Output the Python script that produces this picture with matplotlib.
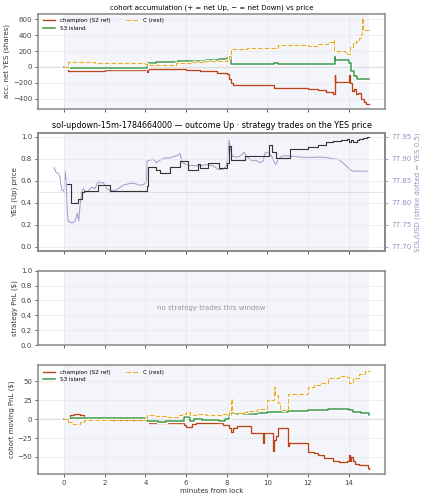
import matplotlib
matplotlib.use('Agg')
import matplotlib.pyplot as plt
import matplotlib.patheffects as pe

# panel 1: accumulated net YES shares per cohort (step series)
champ_acc_t = [0, 0.2, 1.0, 2.0, 3.0, 4.0, 4.1, 4.15, 5.0, 6.0, 6.7, 7.5, 8.0, 8.1, 8.2, 8.3,
               9.0, 10.3, 10.5, 11.5, 12.0, 12.5, 12.9, 13.2, 13.3, 13.32, 13.4, 13.9, 14.0,
               14.05, 14.15, 14.25, 14.35, 14.45, 14.6, 14.75, 14.85, 15.0]
champ_acc_v = [0, -55, -48, -42, -35, -28, -60, -25, -30, -40, -55, -70, -88, -150, -200, -230,
               -232, -260, -268, -270, -280, -295, -320, -335, -100, -190, -185, -190, -100,
               -200, -300, -280, -340, -330, -400, -440, -470, -465]
s3_acc_t = [0, 0.2, 1.0, 2.0, 3.0, 4.1, 4.5, 5.6, 6.3, 7.0, 7.6, 8.0, 8.1, 8.2, 9.0, 10.3, 10.5,
            12.0, 12.9, 13.3, 13.32, 13.9, 14.0, 14.1, 14.25, 14.4, 15.0]
s3_acc_v = [0, -17, -18, -16, -14, 55, 62, 72, 80, 88, 95, 108, 130, 32, 35, 46, 38,
            35, 40, 125, 90, 90, 50, -50, -110, -150, -150]
c_acc_t = [0, 0.2, 1.5, 2.5, 4.0, 4.1, 5.5, 6.3, 7.0, 7.6, 8.0, 8.1, 8.2, 9.0, 10.0, 10.5, 12.0,
           12.5, 13.0, 13.2, 13.25, 13.8, 13.9, 14.05, 14.2, 14.35, 14.5, 14.62, 14.65, 14.7, 15.0]
c_acc_v = [0, 62, 50, 45, 40, 30, 52, 62, 70, 80, 92, 140, 232, 238, 242, 272, 265,
           290, 310, 340, 195, 190, 162, 245, 300, 320, 360, 410, 615, 470, 462]

# panel 2: YES (Up) price and SOL/USD spot
yes_t = [0.16, 0.33, 0.7, 0.87, 1.0, 1.69, 2.26, 4.1, 4.15, 4.5, 4.7, 5.2, 5.7, 6.1, 6.6, 6.7,
         7.1, 7.6, 8.0, 8.1, 8.12, 8.2, 8.9, 10.1, 10.2, 10.4, 11.1, 12.0, 12.5, 12.9, 13.2, 13.6,
         13.9, 14.0, 14.1, 14.2, 14.4, 14.5, 14.7, 14.9, 15.0]
yes_p = [0.57, 0.40, 0.43, 0.50, 0.51, 0.56, 0.51, 0.55, 0.73, 0.70, 0.67, 0.73, 0.78, 0.70,
         0.75, 0.72, 0.76, 0.72, 0.76, 0.78, 0.92, 0.79, 0.83, 0.93, 0.86, 0.81, 0.89, 0.91, 0.93,
         0.95, 0.96, 0.97, 0.98, 0.95, 0.97, 0.95, 0.97, 0.98, 0.99, 1.00, 1.00]
sol_t = [-0.49, -0.39, -0.28, -0.2, -0.15, -0.1, 0.0, 0.05, 0.1, 0.16, 0.2, 0.38, 0.54, 0.65, 0.72,
         0.79, 0.87, 0.95, 1.08, 1.2, 1.36, 1.52, 1.69, 1.77, 1.93, 2.1, 2.26, 2.5, 2.67, 2.91,
         3.16, 3.4, 3.73, 3.9, 4.06, 4.08, 4.2, 4.39, 4.55, 4.72, 4.96, 5.2, 5.37, 5.53, 5.7, 5.82,
         6.02, 6.18, 6.35, 6.68, 7.0, 7.33, 7.58, 7.82, 7.99, 8.12, 8.18, 8.28, 8.48, 8.64, 8.85,
         8.97, 9.13, 9.3, 9.46, 9.62, 9.79, 9.87, 10.03, 10.2, 10.31, 10.41, 10.53, 10.69, 10.93,
         11.26, 11.59, 12.08, 12.57, 12.9, 13.22, 13.47, 13.71, 13.87, 14.04, 14.2, 14.53, 14.9]
sol_p = [77.880, 77.869, 77.867, 77.858, 77.840, 77.828, 77.826, 77.872, 77.850, 77.780, 77.758,
         77.754, 77.758, 77.776, 77.758, 77.795, 77.824, 77.832, 77.824, 77.828, 77.835, 77.832,
         77.850, 77.845, 77.846, 77.832, 77.828, 77.828, 77.832, 77.840, 77.843, 77.845, 77.840,
         77.841, 77.848, 77.895, 77.897, 77.899, 77.891, 77.897, 77.902, 77.902, 77.905, 77.907,
         77.912, 77.891, 77.887, 77.884, 77.885, 77.884, 77.887, 77.884, 77.876, 77.876, 77.884,
         77.943, 77.921, 77.906, 77.904, 77.906, 77.915, 77.906, 77.899, 77.895, 77.897, 77.891,
         77.895, 77.913, 77.915, 77.906, 77.895, 77.887, 77.899, 77.906, 77.907, 77.906, 77.904,
         77.903, 77.904, 77.903, 77.900, 77.899, 77.891, 77.884, 77.876, 77.872, 77.872, 77.872]

# panel 4: cohort mark-to-market PnL ($)
champ_pnl_t = [0, 0.2, 0.3, 0.5, 0.8, 1.0, 1.8, 2.2, 4.1, 4.2, 5.7, 5.9, 6.0, 6.3, 6.5, 7.4, 7.8,
               8.1, 8.2, 8.3, 8.5, 9.2, 9.8, 9.85, 10.2, 10.25, 10.3, 10.4, 10.5, 11.0, 11.05,
               12.0, 12.3, 12.5, 12.8, 13.0, 13.2, 13.5, 13.9, 14.0, 14.05, 14.1, 14.2, 14.3,
               14.5, 14.8, 14.95, 15.0]
champ_pnl_v = [0, -3, 5, 7, 5, 2, 0, -1, -2, -5, -5, -8, -10, -7, -5, -5, -8, -12, -17, -12, -9,
               -18, -31, -18, -18, -42, -27, -22, -12, -35, -32, -43, -45, -48, -51, -52, -55,
               -57, -56, -48, -55, -50, -55, -59, -60, -61, -64, -66]
s3_pnl_t = [0, 0.3, 0.8, 1.6, 4.1, 4.6, 5.0, 5.6, 5.9, 6.2, 6.4, 6.8, 7.6, 7.9, 8.1, 8.2, 8.3,
            9.5, 10.0, 10.5, 11.0, 12.0, 13.0, 13.8, 14.0, 14.2, 14.4, 14.6, 15.0]
s3_pnl_v = [0, 1, 1.5, 2, -3, -4, -3, -2, 3, -2, 0, -1.5, -2, 0, 5, 8, 7,
            8, 9, 10, 11, 12, 13, 13, 12, 10, 9, 8.5, 6]
c_pnl_t = [0, 0.2, 0.4, 0.8, 1.0, 2.0, 4.1, 4.5, 5.0, 5.6, 5.8, 6.0, 6.2, 6.5, 7.0, 7.5, 7.8,
           8.0, 8.1, 8.2, 8.25, 8.3, 8.8, 9.0, 9.5, 10.0, 10.3, 10.35, 10.5, 10.6, 11.0, 12.0,
           12.3, 12.6, 13.0, 13.5, 13.9, 14.0, 14.2, 14.5, 14.8, 15.0]
c_pnl_v = [0, -4, -6, -4, -1, -1, 5, 4, 3, 5, 7, 10, 5, 7, 5, 6, 7, 5, 12, 27, 10, 8, 9, 11,
           13, 25, 42, 32, 21, 12, 33, 42, 45, 48, 54, 57, 56, 48, 55, 60, 63, 65]

C_CHAMP = '#b8441f'
C_S3 = '#3d9a4b'
C_REST = '#e6ac2a'
C_SOL = '#9d8cc4'
SPAN = '#f3f5fa'

plt.rcParams.update({
    'font.size': 5,
    'axes.edgecolor': '#888888',
    'axes.linewidth': 1.1,
    'axes.labelcolor': '#333333',
    'axes.labelpad': 2,
    'xtick.color': '#444444',
    'ytick.color': '#444444',
    'xtick.labelsize': 5,
    'ytick.labelsize': 5,
    'xtick.major.size': 2.5,
    'ytick.major.size': 2.5,
    'xtick.major.width': 0.6,
    'ytick.major.width': 0.6,
    'xtick.major.pad': 1.5,
    'ytick.major.pad': 2,
    'grid.color': '#e6e8ee',
    'grid.linewidth': 0.5,
})

halo = [pe.withStroke(linewidth=2.4, foreground='white')]

fig = plt.figure(figsize=(4.23, 5.0), dpi=100)
ax1 = fig.add_axes([0.0906, 0.7826, 0.8194, 0.19])
ax2 = fig.add_axes([0.0906, 0.498, 0.8194, 0.237], sharex=ax1)
ax3 = fig.add_axes([0.0906, 0.31, 0.8194, 0.1487], sharex=ax1)
ax4 = fig.add_axes([0.0906, 0.052, 0.8194, 0.218], sharex=ax1)

for ax in (ax1, ax3, ax4):
    ax.axvspan(0, 15, color=SPAN, zorder=0, lw=0)
for ax in (ax1, ax2, ax3, ax4):
    ax.grid(True, zorder=0)
    ax.set_axisbelow(True)


def plot_cohorts(ax, series):
    for t, v, color, lw, ls, label in series:
        ax.plot(t, v, drawstyle='steps-post', color=color, lw=lw, ls=ls,
                label=label, path_effects=halo)
    ax.legend(loc='upper left', ncol=2, fontsize=4.1, frameon=False, handlelength=2.2,
              columnspacing=2.8, borderaxespad=0.4)


# panel 1
ax1.axhline(0, color='#dddddd', lw=0.8, zorder=1)
plot_cohorts(ax1, [
    (champ_acc_t, champ_acc_v, C_CHAMP, 1.0, '-', 'champion (S2 ref)'),
    (s3_acc_t, s3_acc_v, C_S3, 1.1, '-', 'S3 island'),
    (c_acc_t, c_acc_v, C_REST, 0.9, '--', 'C (rest)'),
])
ax1.set_ylabel('acc. net YES (shares)')
ax1.set_title('cohort accumulation (+ = net Up, \u2212 = net Down) vs price', fontsize=5.0, pad=3)

# panel 2: price axes, SOL on a twin axis drawn underneath the YES line
ax2b = ax2.twinx()
ax2b.axvspan(0, 15, color=SPAN, zorder=0, lw=0)
ax2b.plot(sol_t, sol_p, color=C_SOL, lw=0.7, alpha=0.9, zorder=2)
ax2b.set_ylim(77.69, 77.96)
ax2b.set_yticks([77.70, 77.75, 77.80, 77.85, 77.90, 77.95])
ax2b.tick_params(axis='y', colors=C_SOL, labelsize=5, pad=2)
ax2b.set_ylabel('SOL/USD (strike dotted = YES 0.5)', color=C_SOL, labelpad=2)
ax2b.spines['right'].set_color('#666666')
ax2b.spines['right'].set_linewidth(1.1)
ax2.set_zorder(ax2b.get_zorder() + 1)
ax2.patch.set_visible(False)

ax2.axhline(0.5, color='#bbbbbb', lw=0.7, ls=':', zorder=1)
ax2.plot(yes_t, yes_p, drawstyle='steps-post', color='#333333', lw=0.8, zorder=3)
ax2.set_ylim(-0.04, 1.04)
ax2.set_yticks([0.0, 0.2, 0.4, 0.6, 0.8, 1.0])
ax2.set_ylabel('YES (Up) price')
ax2.set_title('sol-updown-15m-1784664000 \u2014 outcome Up \u00b7 strategy trades on the YES price',
              fontsize=5.75, pad=3)

# panel 3
ax3.set_ylim(0, 1)
ax3.set_yticks([0.0, 0.2, 0.4, 0.6, 0.8, 1.0])
ax3.set_ylabel('strategy PnL ($)')
ax3.text(0.5, 0.5, 'no strategy trades this window', transform=ax3.transAxes,
         ha='center', va='center', color='#999999', fontsize=5)

# panel 4
ax4.axhline(0, color='#dddddd', lw=0.8, zorder=1)
plot_cohorts(ax4, [
    (champ_pnl_t, champ_pnl_v, C_CHAMP, 1.0, '-', 'champion (S2 ref)'),
    (s3_pnl_t, s3_pnl_v, C_S3, 1.1, '-', 'S3 island'),
    (c_pnl_t, c_pnl_v, C_REST, 0.9, '--', 'C (rest)'),
])
ax4.set_ylabel('cohort moving PnL ($)')
ax4.set_xlabel('minutes from lock', labelpad=1.5)
ax4.set_yticks([-50, -25, 0, 25, 50])

for ax in (ax1, ax2, ax3):
    ax.tick_params(axis='x', labelbottom=False)
ax4.set_xticks([0, 2, 4, 6, 8, 10, 12, 14])

fig.savefig('out.png', dpi=100)
